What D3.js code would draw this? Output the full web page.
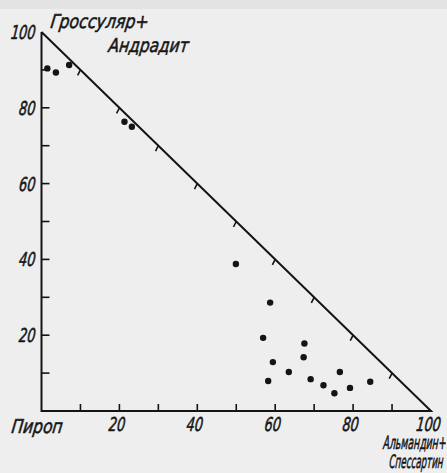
<!DOCTYPE html>
<html>
<head>
<meta charset="utf-8">
<script src="https://cdn.jsdelivr.net/npm/d3@7/dist/d3.min.js"></script>
<style>
  html, body { margin: 0; padding: 0; background: #eeeeee; }
  svg { display: block; }
  text { font-family: "DejaVu Sans", "Liberation Sans", sans-serif; font-style: italic; fill: #161616; stroke: #161616; stroke-width: 0.6; }
</style>
</head>
<body>
<script>
// Garnet compositions: almandine+spessartine (%) vs grossular+andradite (%); pyrope is the remainder
const almSps = [1.5, 3.7, 7.1, 21.3, 23.2, 49.9, 58.7, 56.9, 67.5, 67.3, 59.4, 63.5, 58.2, 69.1, 72.4, 75.2, 76.6, 79.2, 84.4];
const grsAdr = [90.4, 89.3, 91.3, 76.3, 75.0, 38.8, 28.6, 19.3, 17.8, 14.2, 12.9, 10.3, 7.9, 8.4, 6.8, 4.7, 10.3, 6.1, 7.7];

const xTickLabels = [20, 40, 60, 80, 100];
const yTickLabels = [20, 40, 60, 80, 100];
const minorTicks = [10, 20, 30, 40, 50, 60, 70, 80, 90];

const W = 447, H = 473;
const svg = d3.select("body").append("svg").attr("width", W).attr("height", H);

svg.append("rect").attr("width", W).attr("height", H).attr("fill", "#eeeeee");
svg.append("rect").attr("width", W).attr("height", 9).attr("fill", "#e3e3e3");

const x = d3.scaleLinear().domain([0, 100]).range([41.5, 431]);
const y = d3.scaleLinear().domain([0, 100]).range([411, 32]);

const ink = "#141414";
const g = svg.append("g");

// triangle frame: two legs and the hypotenuse
const frame = d3.line().x(d => x(d[0])).y(d => y(d[1]));
g.append("path")
  .attr("d", frame([[0, 100], [0, 0], [100, 0], [0, 100]]))
  .attr("fill", "none").attr("stroke", ink).attr("stroke-width", 2)
  .attr("stroke-linejoin", "miter");

// ticks on the horizontal leg (pointing up)
g.selectAll(".xt").data(minorTicks).join("line")
  .attr("x1", d => x(d)).attr("x2", d => x(d))
  .attr("y1", y(0)).attr("y2", y(0) - 7)
  .attr("stroke", ink).attr("stroke-width", 1.6);

// ticks on the vertical leg (pointing right)
g.selectAll(".yt").data(minorTicks).join("line")
  .attr("x1", x(0)).attr("x2", x(0) + 8)
  .attr("y1", d => y(d)).attr("y2", d => y(d))
  .attr("stroke", ink).attr("stroke-width", 1.6);

// ticks on the hypotenuse (pointing inward)
g.selectAll(".ht").data(minorTicks).join("line")
  .attr("x1", d => x(d)).attr("y1", d => y(100 - d))
  .attr("x2", d => x(d) - 2.8).attr("y2", d => y(100 - d) + 5.5)
  .attr("stroke", ink).attr("stroke-width", 1.6);

// analyses
g.selectAll(".pt").data(almSps.map((v, i) => [v, grsAdr[i]])).join("circle")
  .attr("cx", d => x(d[0])).attr("cy", d => y(d[1]))
  .attr("r", 3.2).attr("fill", ink);

// condensed, slanted drafting-style lettering: squeeze each text to a given width
function put(txt, px, py, size, width, anchor) {
  const t = svg.append("text")
    .attr("font-size", size)
    .attr("text-anchor", anchor || "start")
    .text(txt);
  const natural = t.node().getComputedTextLength();
  const sx = width ? width / natural : 0.7;
  t.attr("transform", `translate(${px},${py}) scale(${sx},1) skewX(-9)`);
}

// digits share one squeeze factor
const digitSize = 19;
function putNum(v, px, py, anchor) {
  const w = 8.2 * String(v).length;
  put(v, px, py, digitSize, w, anchor);
}
xTickLabels.forEach(v => putNum(v, x(v) - 3, 431, "middle"));
yTickLabels.forEach(v => putNum(v, 35, y(v) + 7, "end"));

// end-member labels
put("Гроссуляр+", 50, 28, 19, 98);
put("Андрадит", 108, 52, 19, 80);
put("Пироп", 11, 433, 19, 51);
put("Альмандин+", 446, 449, 18.5, 63, "end");
put("Спессартин", 443, 468, 18.5, 54, "end");
</script>
</body>
</html>
